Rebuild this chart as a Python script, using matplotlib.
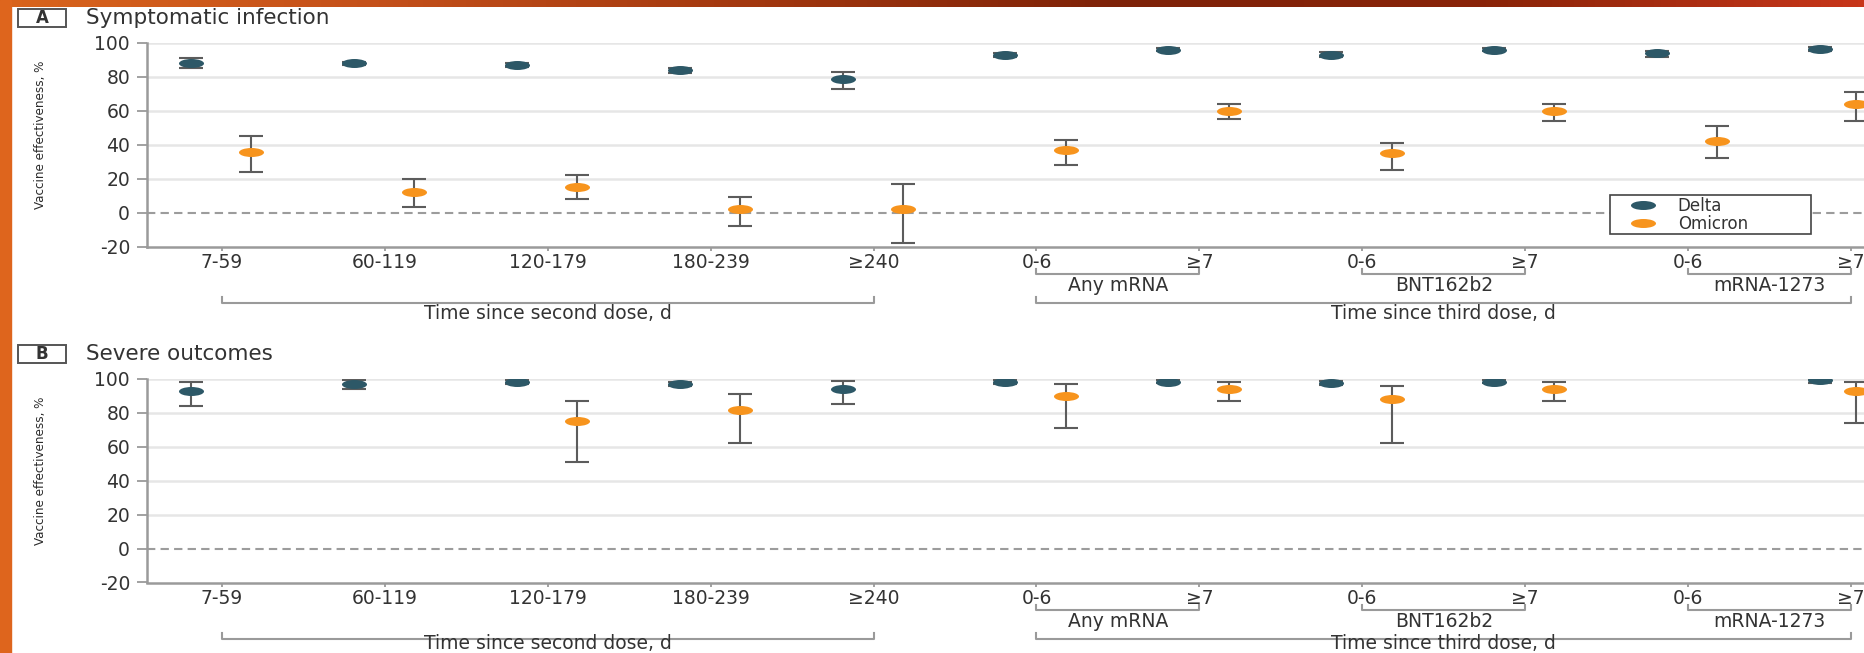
import numpy as np
import matplotlib.pyplot as plt
from matplotlib.path import Path
from matplotlib.patches import Rectangle
from matplotlib.colors import LinearSegmentedColormap
from matplotlib.transforms import blended_transform_factory

# categories on the x axis (days since dose)
categories = ['7-59', '60-119', '120-179', '180-239', '≥240',
              '0-6', '≥7', '0-6', '≥7', '0-6', '≥7']
vaccine_groups = ['Any mRNA', 'BNT162b2', 'mRNA-1273']
vaccine_spans = [(5, 6), (7, 8), (9, 10)]
dose_groups = ['Time since second dose, d', 'Time since third dose, d']
dose_spans = [(0, 4), (5, 10)]
yticks = [-20, 0, 20, 40, 60, 80, 100]
ytick_labels = ['-20', '0', '20', '40', '60', '80', '100']

nan = np.nan
# A - symptomatic infection: vaccine effectiveness (%) and 95% CI
delta_sym = [88, 88, 87, 84, 79, 93, 96, 93, 96, 94, 96.5]
delta_sym_lo = [85, 87, 86, 82.5, 73, 92, 95.5, 91.5, 95.5, 92, 95.5]
delta_sym_hi = [91, 89, 88, 85.5, 83, 94, 97, 94.5, 97, 95.5, 97.5]
omicron_sym = [36, 12, 15, 2, 2, 37, 60, 35, 60, 42, 64]
omicron_sym_lo = [24, 3, 8, -8, -18, 28, 55, 25, 54, 32, 54]
omicron_sym_hi = [45, 20, 22, 9, 17, 43, 64, 41, 64, 51, 71]

# B - severe outcomes
delta_sev = [93, 97, 98, 97, 94, 98, 98.5, 97.5, 98.5, nan, 99.5]
delta_sev_lo = [84, 94, 97, 96, 85, 97, 97.5, 96.5, 97.5, nan, 97.5]
delta_sev_hi = [98, 99.5, 99.5, 98, 99, 99.5, 99.5, 99, 99.5, nan, 100]
omicron_sev = [nan, nan, 75, 82, nan, 90, 94, 88, 94, nan, 93]
omicron_sev_lo = [nan, nan, 51, 62, nan, 71, 87, 62, 87, nan, 74]
omicron_sev_hi = [nan, nan, 87, 91, nan, 97, 98, 96, 98, nan, 98]

DELTA = '#2d5867'
OMICRON = '#f7941d'
TXT = '#333333'
GREY = '#9a9a9a'
FS = 13.5

W, H = 1865, 653
fig = plt.figure(figsize=(W / 100, H / 100), dpi=100)
fig.patch.set_facecolor('white')

# slide decoration: orange strip on the left, gradient band on top
fig.patches.append(Rectangle((0, 0), 11 / W, 1, transform=fig.transFigure,
                             color='#de651d', zorder=0))
band = fig.add_axes([0, 1 - 7.5 / H, 1, 7.5 / H])
band_cmap = LinearSegmentedColormap.from_list(
    'band', ['#d9641c', '#c4501a', '#a3380f', '#7e2208', '#8a2408', '#c8361a'])
band.imshow(np.linspace(0, 1, 256)[None, :], aspect='auto', cmap=band_cmap)
band.axis('off')

# ellipse marker (points look squashed in the source)
circ = Path.unit_circle()
ellipse = Path(circ.vertices * [1.0, 0.36], circ.codes)

x = np.arange(len(categories))
x_delta = x - 0.19
x_omicron = x + 0.18
x_omicron[-1] = x[-1] + 0.03  # last group is squeezed against the right edge

AX_H = 203.5


def draw_series(ax, xs, vals, lo, hi, color, label):
    v = np.array(vals, float)
    lo = np.array(lo, float)
    hi = np.array(hi, float)
    ok = ~np.isnan(v)
    ax.errorbar(xs[ok], v[ok], yerr=[v[ok] - lo[ok], hi[ok] - v[ok]], fmt='none',
                ecolor='#5c5c5c', elinewidth=1.5, capsize=8.6, capthick=1.5, zorder=3)
    line, = ax.plot(xs[ok], v[ok], ls='none', marker=ellipse, ms=18, color=color,
                    mew=0, zorder=4, label=label)
    return line


def draw_panel(top, letter, title, d, dlo, dhi, o, olo, ohi, legend=False, dose_dy=66.5):
    ax = fig.add_axes([147 / W, 1 - (top + AX_H) / H, 1801.7 / W, AX_H / H])
    ax.set_xlim(-0.46, 10.6)
    ax.set_ylim(-20, 100)
    for s in ['top', 'right']:
        ax.spines[s].set_visible(False)
    for s in ['left', 'bottom']:
        ax.spines[s].set_color(GREY)
        ax.spines[s].set_linewidth(1.8)
    ax.set_yticks(yticks)
    ax.set_yticklabels(ytick_labels)
    ax.set_xticks(x)
    ax.set_xticklabels(categories)
    ax.tick_params(axis='y', length=7.2, width=1.3, color=GREY, pad=5,
                   labelsize=FS, labelcolor=TXT)
    ax.tick_params(axis='x', length=3, width=1.3, color=GREY, pad=2,
                   labelsize=FS, labelcolor=TXT)
    for yv in yticks:
        if yv > 0:
            ax.axhline(yv, color='#e6e6e6', lw=1.8, zorder=1)
    ax.axhline(0, color='#9c9c9c', lw=1.5, dashes=(4, 2.5), zorder=1)

    hd = draw_series(ax, x_delta, d, dlo, dhi, DELTA, 'Delta')
    ho = draw_series(ax, x_omicron, o, olo, ohi, OMICRON, 'Omicron')

    # bracket annotations under the axis
    tr = blended_transform_factory(ax.transData, ax.transAxes)

    def px(dy):
        return -dy / AX_H

    for name, (a, b) in zip(vaccine_groups, vaccine_spans):
        ax.plot([a, a, b, b], [px(22), px(27.5), px(27.5), px(22)], color=GREY,
                lw=1.5, transform=tr, clip_on=False)
        ax.text((a + b) / 2, px(39), name, transform=tr, ha='center', va='center',
                fontsize=FS, color=TXT)
    for name, (a, b) in zip(dose_groups, dose_spans):
        ax.plot([a, a, b, b], [px(50.5), px(56.5), px(56.5), px(50.5)], color=GREY,
                lw=1.5, transform=tr, clip_on=False)
        ax.text((a + b) / 2, px(dose_dy), name, transform=tr, ha='center', va='center',
                fontsize=FS, color=TXT)

    # panel letter box and title
    fig.patches.append(Rectangle((18 / W, 1 - (top - 16) / H), 48 / W, 18 / H,
                                 transform=fig.transFigure, fill=True, fc='white',
                                 ec='#555555', lw=1.4))
    fig.text(42 / W, 1 - (top - 25) / H, letter, ha='center', va='center',
             fontsize=12, fontweight='bold', color=TXT)
    fig.text(86 / W, 1 - (top - 25) / H, title, ha='left', va='center',
             fontsize=15.5, color=TXT)
    fig.text(41 / W, 1 - (top + 92) / H, 'Vaccine effectiveness, %', rotation=90,
             ha='center', va='center', fontsize=9.5, color='#2b2b2b',
             family='DejaVu Sans', fontstretch='condensed')

    if legend:
        leg = ax.legend(handles=[hd, ho], loc='upper left',
                        bbox_to_anchor=(1610 / W, 1 - 235 / H, 201 / W, 40 / H),
                        bbox_transform=fig.transFigure, mode='expand',
                        borderaxespad=0, fontsize=12, labelspacing=0.0,
                        borderpad=0.1, handlelength=3.75, handletextpad=0.22,
                        fancybox=False, framealpha=1, edgecolor='#444444')
        leg.get_frame().set_linewidth(1.2)
        for t in leg.get_texts():
            t.set_color(TXT)
        leg.set_zorder(6)
    return ax


draw_panel(43, 'A', 'Symptomatic infection', delta_sym, delta_sym_lo, delta_sym_hi,
           omicron_sym, omicron_sym_lo, omicron_sym_hi, legend=True)
# bottom dose labels nudged up so they stay inside the picture
draw_panel(379, 'B', 'Severe outcomes', delta_sev, delta_sev_lo, delta_sev_hi,
           omicron_sev, omicron_sev_lo, omicron_sev_hi, dose_dy=61)

fig.savefig('out.png', dpi=100)
